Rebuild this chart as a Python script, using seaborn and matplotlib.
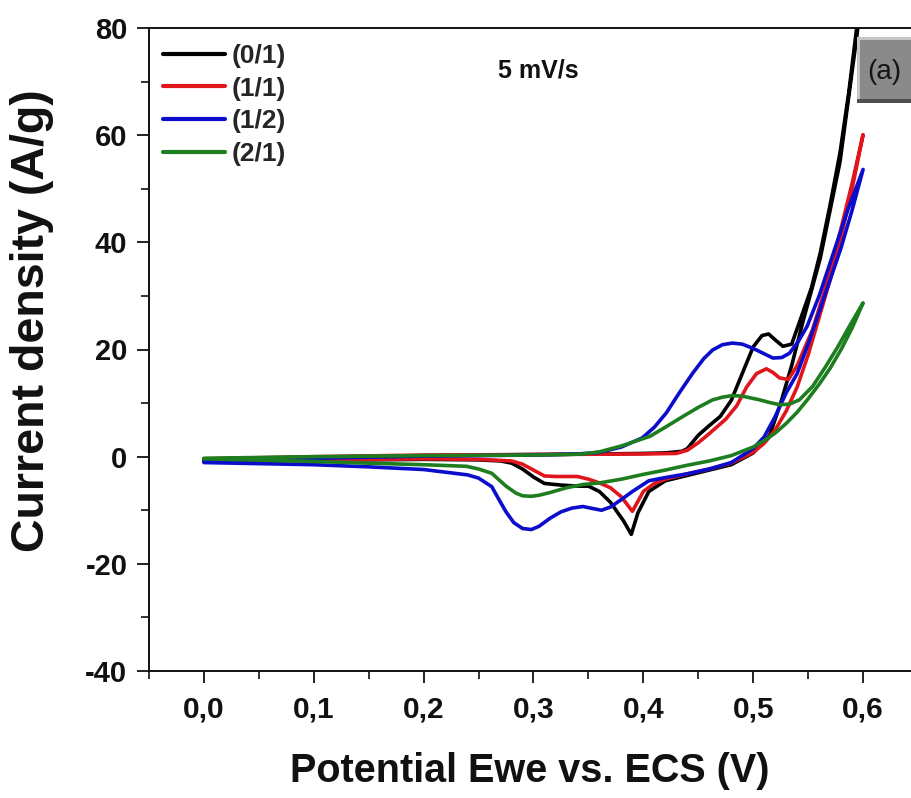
import numpy as np
import pandas as pd
import matplotlib
matplotlib.use("Agg")
import matplotlib.pyplot as plt
import seaborn as sns
from matplotlib.patches import Rectangle

# ---------------- data ----------------
samples = ["(0/1)", "(1/1)", "(1/2)", "(2/1)"]
colors = ["#000000", "#e0161c", "#0c0ccc", "#1e7d1e"]

# (0/1) black
e01_fwd = [0.0, 0.1, 0.2, 0.3, 0.36, 0.40, 0.42, 0.435, 0.44, 0.45, 0.46, 0.47, 0.48, 0.49, 0.50, 0.508, 0.514,
           0.52, 0.527, 0.535, 0.545, 0.553, 0.561, 0.57, 0.579, 0.587, 0.594, 0.6]
j01_fwd = [-0.5, -0.1, 0.2, 0.4, 0.5, 0.6, 0.7, 1.0, 1.5, 4.0, 5.8, 7.5, 10.5, 15.5, 20.5, 22.6, 22.9,
           21.8, 20.6, 21.0, 26.8, 31.5, 38.0, 47.0, 56.7, 68.0, 79.7, 88.0]
e01_rev = [0.6, 0.594, 0.579, 0.561, 0.545, 0.535, 0.525, 0.515, 0.50, 0.48, 0.46, 0.44, 0.42, 0.405, 0.395, 0.389,
           0.382, 0.37, 0.36, 0.35, 0.34, 0.325, 0.31, 0.30, 0.29, 0.28, 0.27, 0.25, 0.2, 0.1, 0.0]
j01_rev = [88.0, 78.0, 55.0, 37.0, 25.0, 17.0, 10.0, 4.0, 0.7, -1.5, -2.5, -3.5, -4.5, -6.5, -10.5, -14.5,
           -12.0, -8.5, -6.5, -5.5, -5.5, -5.3, -5.0, -3.8, -2.3, -1.2, -0.8, -0.6, -0.5, -0.7, -0.9]

# (1/1) red
e11_fwd = [0.0, 0.1, 0.2, 0.3, 0.4, 0.43, 0.44, 0.45, 0.46, 0.475, 0.485, 0.494, 0.503, 0.512, 0.518, 0.524,
           0.532, 0.54, 0.554, 0.565, 0.579, 0.59, 0.6]
j11_fwd = [-0.4, 0.0, 0.3, 0.4, 0.5, 0.6, 1.2, 2.6, 4.3, 7.0, 9.5, 13.0, 15.5, 16.4, 15.7, 14.7,
           14.4, 17.0, 23.7, 31.0, 41.8, 51.0, 60.1]
e11_rev = [0.6, 0.59, 0.58, 0.57, 0.56, 0.55, 0.54, 0.53, 0.52, 0.51, 0.50, 0.48, 0.46, 0.44, 0.42, 0.41, 0.40,
           0.39, 0.38, 0.37, 0.36, 0.35, 0.34, 0.33, 0.32, 0.31, 0.30, 0.29, 0.28, 0.25, 0.2, 0.1, 0.0]
j11_rev = [60.1, 50.0, 41.0, 33.0, 26.0, 19.0, 13.0, 8.5, 5.0, 2.5, 0.8, -1.2, -2.3, -3.2, -4.2, -5.0, -6.5,
           -10.2, -7.5, -5.8, -4.9, -4.2, -3.7, -3.7, -3.7, -3.6, -2.5, -1.4, -0.8, -0.5, -0.4, -0.6, -0.8]

# (1/2) blue
e12_fwd = [0.0, 0.1, 0.2, 0.3, 0.34, 0.36, 0.38, 0.399, 0.41, 0.421, 0.433, 0.445, 0.455, 0.463, 0.472, 0.481,
           0.49, 0.5, 0.51, 0.518, 0.526, 0.533, 0.541, 0.549, 0.56, 0.573, 0.586, 0.6]
j12_fwd = [-0.8, -0.3, 0.1, 0.3, 0.5, 0.8, 1.8, 3.5, 5.5, 8.2, 12.0, 15.6, 18.3, 19.9, 20.9, 21.2,
           21.0, 20.2, 19.2, 18.4, 18.5, 19.3, 21.5, 24.3, 30.0, 38.0, 46.0, 53.6]
e12_rev = [0.6, 0.59, 0.58, 0.57, 0.56, 0.55, 0.54, 0.53, 0.52, 0.51, 0.50, 0.48, 0.46, 0.44, 0.42, 0.405,
           0.39, 0.38, 0.37, 0.362, 0.352, 0.345, 0.335, 0.325, 0.315, 0.305, 0.298, 0.29, 0.282, 0.275,
           0.268, 0.262, 0.25, 0.24, 0.2, 0.15, 0.1, 0.0]
j12_rev = [53.6, 46.0, 39.0, 33.0, 27.0, 21.0, 15.5, 11.9, 7.5, 3.7, 1.5, -1.1, -2.3, -3.2, -3.9, -4.5,
           -6.5, -8.0, -9.4, -10.0, -9.6, -9.3, -9.6, -10.3, -11.5, -13.0, -13.6, -13.4, -12.3, -10.3,
           -7.8, -5.6, -4.0, -3.4, -2.4, -1.9, -1.5, -1.1]

# (2/1) green
e21_fwd = [0.0, 0.1, 0.2, 0.3, 0.33, 0.345, 0.36, 0.38, 0.406, 0.42, 0.436, 0.45, 0.463, 0.472, 0.481, 0.49,
           0.506, 0.515, 0.524, 0.533, 0.542, 0.554, 0.565, 0.577, 0.588, 0.6]
j21_fwd = [-0.3, 0.0, 0.2, 0.3, 0.4, 0.5, 0.9, 2.0, 3.8, 5.5, 7.5, 9.2, 10.6, 11.1, 11.4, 11.3,
           10.6, 10.1, 9.7, 9.8, 10.6, 13.1, 16.5, 20.5, 24.5, 28.7]
e21_rev = [0.6, 0.59, 0.58, 0.57, 0.56, 0.55, 0.54, 0.53, 0.52, 0.51, 0.50, 0.48, 0.46, 0.44, 0.42, 0.40,
           0.38, 0.36, 0.345, 0.33, 0.315, 0.305, 0.298, 0.29, 0.284, 0.275, 0.262, 0.25, 0.239, 0.2,
           0.147, 0.1, 0.0]
j21_rev = [28.7, 24.0, 20.0, 16.5, 13.5, 10.8, 8.3, 6.2, 4.4, 3.0, 1.8, 0.2, -0.8, -1.6, -2.5, -3.3,
           -4.2, -4.9, -5.2, -5.8, -6.7, -7.2, -7.4, -7.3, -6.8, -5.5, -3.1, -2.3, -1.8, -1.5,
           -1.2, -0.9, -0.4]

xtick_vals = [0.0, 0.1, 0.2, 0.3, 0.4, 0.5, 0.6]
xtick_labels = ["0,0", "0,1", "0,2", "0,3", "0,4", "0,5", "0,6"]
ytick_vals = [-40, -20, 0, 20, 40, 60, 80]

branches = {
    "(0/1)": (e01_fwd + e01_rev, j01_fwd + j01_rev),
    "(1/1)": (e11_fwd + e11_rev, j11_fwd + j11_rev),
    "(1/2)": (e12_fwd + e12_rev, j12_fwd + j12_rev),
    "(2/1)": (e21_fwd + e21_rev, j21_fwd + j21_rev),
}
rows = []
for s in samples:
    E, J = branches[s]
    for k, (e, j) in enumerate(zip(E, J)):
        rows.append({"E": e, "j": j, "sample": s, "order": k})
df = pd.DataFrame(rows)

# ---------------- style ----------------
sns.set_style("ticks")
plt.rcParams["font.family"] = ["Liberation Sans", "DejaVu Sans"]
plt.rcParams["axes.unicode_minus"] = False

W, H = 912, 798
fig = plt.figure(figsize=(W / 100, H / 100), dpi=100)
ax = fig.add_axes([149 / W, 127 / H, 769 / W, 643 / H])

sns.lineplot(data=df, x="E", y="j", hue="sample", hue_order=samples, palette=colors,
             sort=False, estimator=None, linewidth=2.6, legend=False, ax=ax)

ax.set_xlim(-0.05, 0.65)
ax.set_ylim(-40, 80)
ax.set_xticks(xtick_vals)
ax.set_xticklabels(xtick_labels)
ax.set_xticks(np.arange(-0.05, 0.66, 0.05), minor=True)
ax.set_yticks(ytick_vals)
ax.set_yticks(np.arange(-40, 81, 10), minor=True)

for sp in ax.spines.values():
    sp.set_linewidth(1.4)
    sp.set_color("#111111")
ax.tick_params(axis="both", which="major", direction="out", length=8.5, width=1.3, colors="#111111")
ax.tick_params(axis="both", which="minor", direction="out", length=5.5, width=1.2, colors="#111111")
ax.tick_params(axis="x", which="major", pad=9, labelsize=21.5)
ax.tick_params(axis="y", which="major", pad=7, labelsize=21)
for lab in ax.get_xticklabels() + ax.get_yticklabels():
    lab.set_fontweight("bold")
    lab.set_color("#111111")

ax.set_xlabel("Potential Ewe vs. ECS (V)", fontsize=28.5, fontweight="bold", color="#111111")
ax.set_ylabel("Current density (A/g)", fontsize=33.5, fontweight="bold", color="#111111")
ax.xaxis.set_label_coords((530 - 149) / 769, (671 - 782) / 643)
ax.xaxis.label.set_verticalalignment("baseline")
ax.yaxis.set_label_coords((54 - 149) / 769, (671 - 321) / 643)

# legend
handles = ax.get_lines()[:4]
leg = ax.legend(handles, samples, loc="upper left", bbox_to_anchor=(163 / W, 1 - 44 / H),
                bbox_transform=fig.transFigure, frameon=False, borderpad=0, borderaxespad=0,
                handlelength=2.35, handletextpad=0.25, labelspacing=0.33,
                prop={"family": ["Liberation Sans", "DejaVu Sans"], "weight": "bold", "size": 19})
for lh in leg.get_lines():
    lh.set_linewidth(3.0)

# annotation text
fig.text(538 / W, 1 - 70 / H, "5 mV/s", ha="center", va="center", fontsize=18, fontweight="bold",
         color="#111111")

# "(a)" bevelled box
def fig_rect(x0, y0, x1, y1, color):
    return Rectangle((x0 / W, 1 - y1 / H), (x1 - x0) / W, (y1 - y0) / H, transform=fig.transFigure,
                     facecolor=color, edgecolor="none", zorder=5)

fig.patches.append(fig_rect(857, 37, 916, 103, "#4f4f4f"))
fig.patches.append(fig_rect(857, 37, 916, 99, "#c6c6c6"))
fig.patches.append(fig_rect(860, 40, 916, 99, "#8a8a8a"))
fig.text(884 / W, 1 - 72 / H, "(a)", ha="center", va="center", fontsize=20, color="#151515", zorder=6)

fig.savefig("out.png", dpi=100)
